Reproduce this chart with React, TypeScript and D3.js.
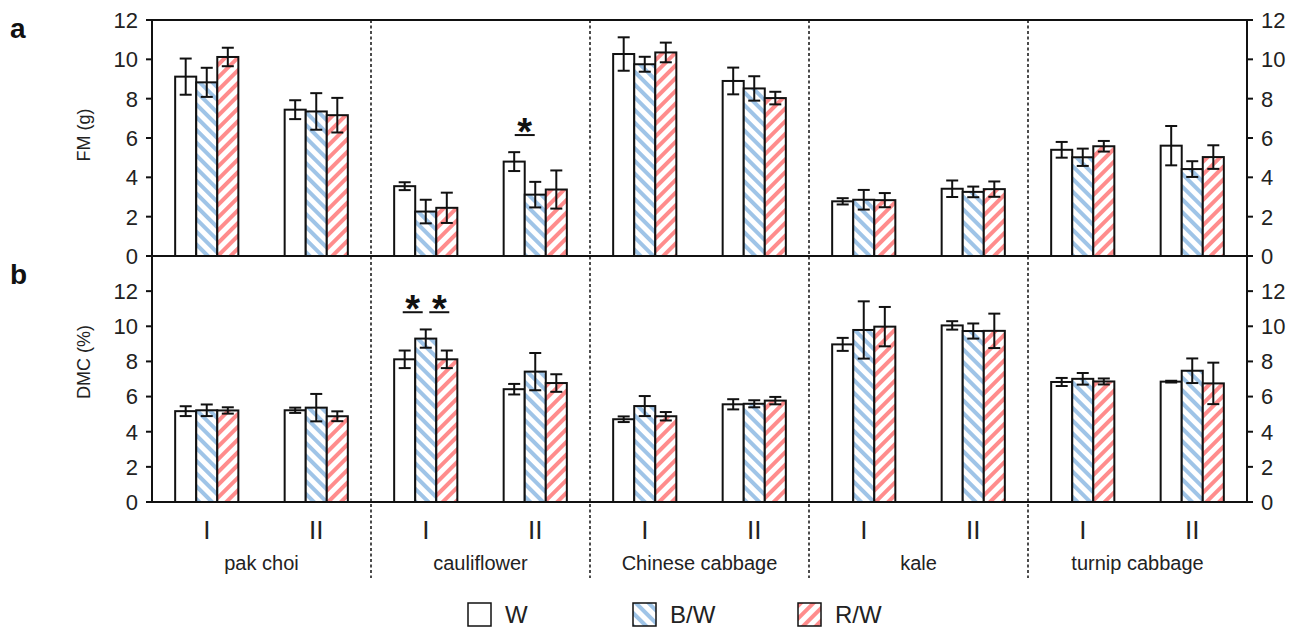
import * as d3 from 'd3';

const groups = ['pak choi', 'cauliflower', 'Chinese cabbage', 'kale', 'turnip cabbage'];
const subs = ['I', 'II'];
const series = ['W', 'B/W', 'R/W'];

// per group: I (W, B/W, R/W), II (W, B/W, R/W)
const fmMeans = [
  [9.12, 8.83, 10.12, 7.44, 7.35, 7.16],
  [3.55, 2.26, 2.45, 4.8, 3.12, 3.38],
  [10.27, 9.75, 10.35, 8.9, 8.52, 8.03],
  [2.78, 2.86, 2.84, 3.42, 3.26, 3.4],
  [5.4, 5.02, 5.58, 5.61, 4.42, 5.03],
];
const fmErr = [
  [0.92, 0.74, 0.47, 0.48, 0.93, 0.88],
  [0.2, 0.6, 0.77, 0.48, 0.65, 0.97],
  [0.85, 0.38, 0.5, 0.68, 0.62, 0.32],
  [0.16, 0.5, 0.36, 0.42, 0.27, 0.39],
  [0.4, 0.44, 0.27, 1.0, 0.4, 0.6],
];
const dmcMeans = [
  [5.17, 5.22, 5.21, 5.22, 5.37, 4.88],
  [8.12, 9.3, 8.12, 6.42, 7.42, 6.77],
  [4.71, 5.46, 4.88, 5.56, 5.59, 5.77],
  [8.97, 9.79, 9.98, 10.05, 9.73, 9.74],
  [6.83, 7.01, 6.86, 6.85, 7.47, 6.75],
];
const dmcErr = [
  [0.28, 0.33, 0.18, 0.15, 0.78, 0.28],
  [0.5, 0.52, 0.5, 0.3, 1.06, 0.5],
  [0.16, 0.57, 0.24, 0.29, 0.2, 0.21],
  [0.37, 1.63, 1.12, 0.24, 0.43, 0.98],
  [0.23, 0.33, 0.17, 0.05, 0.7, 1.18],
];
const yTicks = [0, 2, 4, 6, 8, 10, 12];

// significance marks: panel, group, sub, pair, level (in data units)
const stars = [
  { panel: 'fm', group: 'cauliflower', sub: 'II', from: 'W', to: 'B/W', level: 6.15 },
  { panel: 'dmc', group: 'cauliflower', sub: 'I', from: 'W', to: 'B/W', level: 10.8 },
  { panel: 'dmc', group: 'cauliflower', sub: 'I', from: 'B/W', to: 'R/W', level: 10.8 },
];

const font = 'Liberation Sans, Arial, sans-serif';
const fills: Record<string, string> = { W: '#fff', 'B/W': 'url(#hatchBlue)', 'R/W': 'url(#hatchRed)' };

const left = 152;
const right = 1247;
const top = 20;
const mid = 256;
const bottom = 502;

export default function App() {
  const x = d3.scaleBand().domain(groups).range([left, right]);
  const xSub = d3.scaleBand().domain(subs).range([0, x.bandwidth()]);
  const xSer = d3.scaleBand().domain(series).range([0, xSub.bandwidth()]).paddingOuter(1.1);

  const panels = [
    { key: 'fm', means: fmMeans, errs: fmErr, y: d3.scaleLinear().domain([0, 12]).range([mid, top]), title: 'FM (g)', letter: 'a', titleY: 135 },
    { key: 'dmc', means: dmcMeans, errs: dmcErr, y: d3.scaleLinear().domain([0, 14]).range([bottom, mid]), title: 'DMC (%)', letter: 'b', titleY: 362 },
  ];

  const barX = (g: string, s: string, k: string) => (x(g) ?? 0) + (xSub(s) ?? 0) + (xSer(k) ?? 0);
  const bw = xSer.bandwidth();
  const cap = 6;

  return (
    <svg width={1307} height={630} style={{ position: 'absolute', left: 0, top: 0, background: '#fff' }} fontFamily={font}>
      <defs>
        <pattern id="hatchBlue" patternUnits="userSpaceOnUse" width={9} height={9} patternTransform="rotate(-45)">
          <rect width={9} height={9} fill="#fff" />
          <rect width={4} height={9} fill="#9fc4e7" />
        </pattern>
        <pattern id="hatchRed" patternUnits="userSpaceOnUse" width={9} height={9} patternTransform="rotate(45)">
          <rect width={9} height={9} fill="#fff" />
          <rect width={4} height={9} fill="#ff8c8c" />
        </pattern>
      </defs>

      {panels.map((p) => (
        <g key={p.key}>
          {groups.map((g, gi) =>
            subs.map((s, si) =>
              series.map((k, ki) => {
                const v = p.means[gi][si * 3 + ki];
                const e = p.errs[gi][si * 3 + ki];
                const bx = barX(g, s, k);
                const cx = bx + bw / 2;
                return (
                  <g key={g + s + k}>
                    <rect x={bx} y={p.y(v)} width={bw} height={p.y(0) - p.y(v)} fill={fills[k]} stroke="#111" strokeWidth={2} />
                    <line x1={cx} x2={cx} y1={p.y(v + e)} y2={p.y(v - e)} stroke="#111" strokeWidth={2} />
                    <line x1={cx - cap} x2={cx + cap} y1={p.y(v + e)} y2={p.y(v + e)} stroke="#111" strokeWidth={2} />
                    <line x1={cx - cap} x2={cx + cap} y1={p.y(v - e)} y2={p.y(v - e)} stroke="#111" strokeWidth={2} />
                  </g>
                );
              })
            )
          )}
          {/* left axis */}
          <g>
            <line x1={left} x2={left} y1={p.y.range()[0]} y2={p.y.range()[1]} stroke="#111" strokeWidth={2} />
            {yTicks.map((t) => (
              <g key={t}>
                <line x1={left - 6} x2={left} y1={p.y(t)} y2={p.y(t)} stroke="#111" strokeWidth={2} />
                <text x={left - 14} y={p.y(t)} dy="0.36em" textAnchor="end" fontSize={22} fill="#222">{t}</text>
              </g>
            ))}
          </g>
          {/* right axis */}
          <g>
            <line x1={right} x2={right} y1={p.y.range()[0]} y2={p.y.range()[1]} stroke="#111" strokeWidth={2} />
            {yTicks.map((t) => (
              <g key={t}>
                <line x1={right} x2={right + 6} y1={p.y(t)} y2={p.y(t)} stroke="#111" strokeWidth={2} />
                <text x={right + 14} y={p.y(t)} dy="0.36em" textAnchor="start" fontSize={22} fill="#222">{t}</text>
              </g>
            ))}
          </g>
          <line x1={left} x2={right} y1={p.y(0)} y2={p.y(0)} stroke="#111" strokeWidth={2} />
          <text transform={`translate(84,${p.titleY}) rotate(-90)`} textAnchor="middle" dy="0.35em" fontSize={18} fill="#222">{p.title}</text>
          <text x={10} y={p.key === 'fm' ? 38 : 284} fontSize={28} fontWeight="bold" fill="#111">{p.letter}</text>
        </g>
      ))}

      <line x1={left} x2={right} y1={top} y2={top} stroke="#111" strokeWidth={2} />

      {/* group separators */}
      {groups.slice(1).map((g) => (
        <line key={g} x1={x(g)} x2={x(g)} y1={top} y2={578} stroke="#111" strokeWidth={1.5} strokeDasharray="3,2.5" />
      ))}

      {/* significance */}
      {stars.map((s, i) => {
        const p = panels.find((q) => q.key === s.panel)!;
        const a = barX(s.group, s.sub, s.from) + bw / 2;
        const b = barX(s.group, s.sub, s.to) + bw / 2;
        // spread neighbouring marks apart a little
        const shared = stars.filter((o) => o.panel === s.panel && o.group === s.group && o.sub === s.sub).length > 1;
        const m = (a + b) / 2 + (shared ? (s.from === 'W' ? -2.5 : 3) : 0);
        const yy = p.y(s.level);
        return (
          <g key={i}>
            <line x1={m - 10} x2={m + 10} y1={yy} y2={yy} stroke="#111" strokeWidth={2} />
            <text x={m} y={yy + 10} textAnchor="middle" fontSize={38} fontWeight="bold" fill="#111">*</text>
          </g>
        );
      })}

      {/* x labels */}
      {groups.map((g) => (
        <g key={g}>
          {subs.map((s) => (
            <text key={s} x={(x(g) ?? 0) + (xSub(s) ?? 0) + xSub.bandwidth() / 2} y={530} dy="0.36em" textAnchor="middle" fontSize={26} fill="#222">{s}</text>
          ))}
          <text x={(x(g) ?? 0) + x.bandwidth() / 2} y={563} dy="0.36em" textAnchor="middle" fontSize={20} fill="#222">{g}</text>
        </g>
      ))}

      {/* legend */}
      {series.map((k, i) => (
        <g key={k} transform={`translate(${468 + i * 165},603)`}>
          <rect width={23} height={23} fill={fills[k]} stroke="#111" strokeWidth={1.5} />
          <text x={37} y={11.5} dy="0.36em" fontSize={24} fill="#222">{k}</text>
        </g>
      ))}
    </svg>
  );
}
